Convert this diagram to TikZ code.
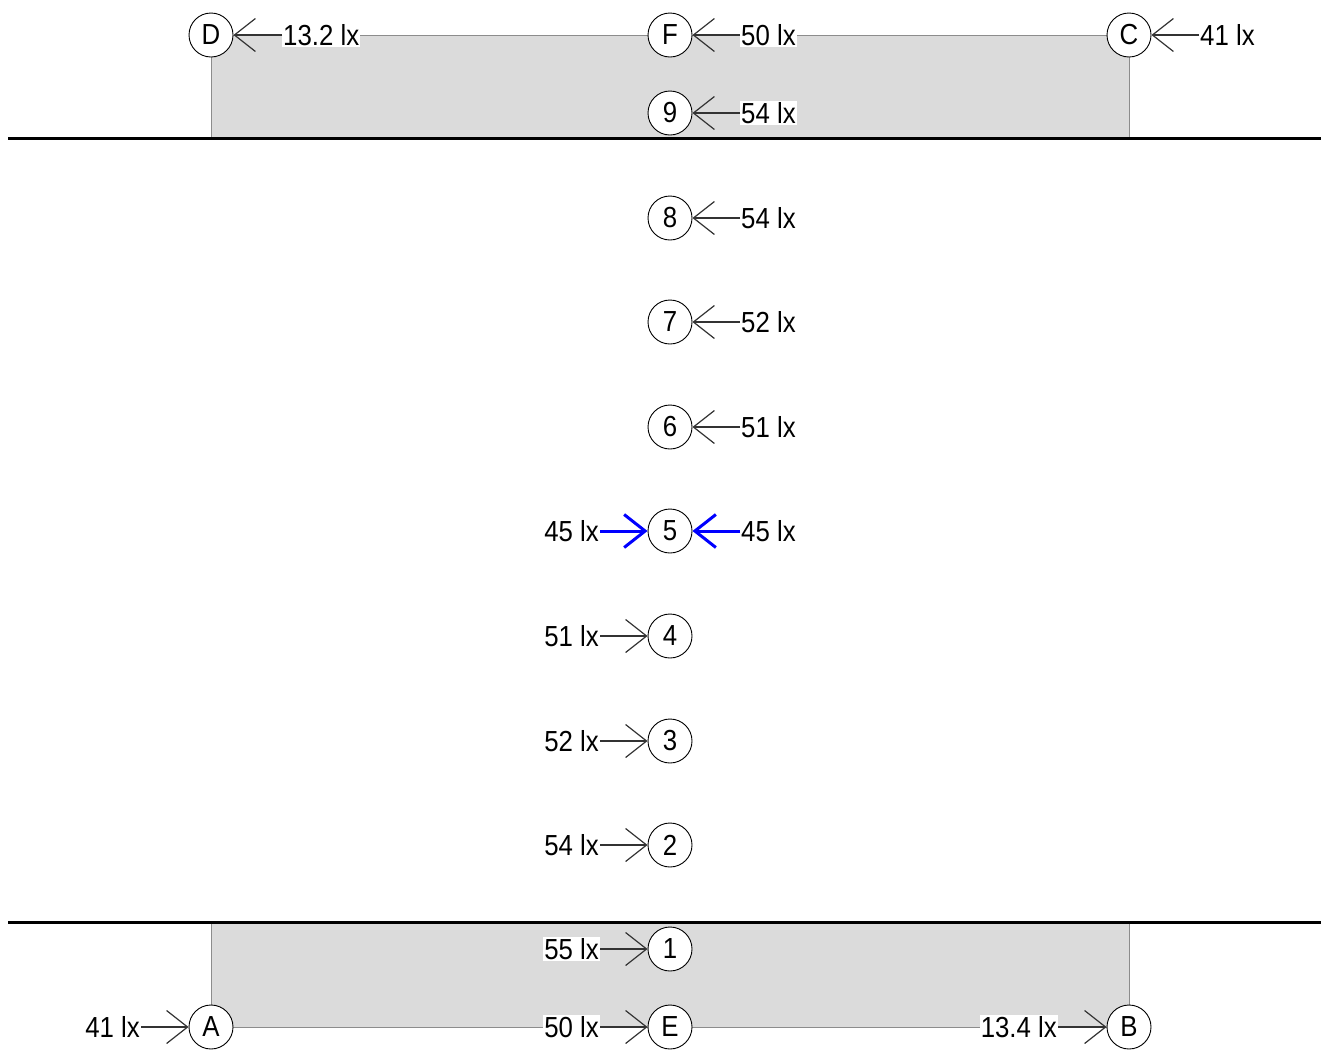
\documentclass[tikz,border=0pt]{standalone}
\usepackage{fontspec}
\setmainfont{Liberation Sans}[FakeStretch=0.89]
\usetikzlibrary{arrows.meta}

\begin{document}
\begin{tikzpicture}[x=1pt, y=-1pt,
  spot/.style={circle, draw=black, fill=white, minimum size=44pt, inner sep=0pt,
               line width=0.9pt, font=\fontsize{29}{33}\selectfont},
  lux/.style={fill=white, inner sep=1pt, font=\fontsize{29}{33}\selectfont},
  meas/.style={-{Straight Barb[length=21pt, width=33pt]}, draw=black!80, line width=1.2pt},
  hot/.style={meas, draw=blue, line width=3pt},
  zone/.style={draw=black!45, fill=black!14, line width=1pt},
  wall/.style={line width=3pt}
]
  \useasboundingbox (0,0) rectangle (1321,1050);

  % lit zones at both ends
  \draw[zone] (211,35) rectangle (1129,138);
  \draw[zone] (211,922) rectangle (1129,1027);
  \draw[wall] (8,138) -- (1321,138);
  \draw[wall] (8,922) -- (1321,922);

  % top row
  \node[spot] (D) at (211,35) {D};
  \node[spot] (F) at (670,35) {F};
  \node[spot] (C) at (1129,35) {C};
  \node[lux, anchor=west] (lD) at (282,35) {13.2 lx};
  \node[lux, anchor=west] (lF) at (740,35) {50 lx};
  \node[lux, anchor=west] (lC) at (1199,35) {41 lx};
  \draw[meas] (lD) -- (D);
  \draw[meas] (lF) -- (F);
  \draw[meas] (lC) -- (C);

  % centre line, upper half
  \node[spot] (p9) at (670,113) {9};
  \node[spot] (p8) at (670,218) {8};
  \node[spot] (p7) at (670,322) {7};
  \node[spot] (p6) at (670,427) {6};
  \node[spot] (p5) at (670,531) {5};
  \node[lux, anchor=west] (l9) at (740,113) {54 lx};
  \node[lux, anchor=west] (l8) at (740,218) {54 lx};
  \node[lux, anchor=west] (l7) at (740,322) {52 lx};
  \node[lux, anchor=west] (l6) at (740,427) {51 lx};
  \node[lux, anchor=west] (l5r) at (740,531) {45 lx};
  \node[lux, anchor=east] (l5l) at (600,531) {45 lx};
  \draw[meas] (l9) -- (p9);
  \draw[meas] (l8) -- (p8);
  \draw[meas] (l7) -- (p7);
  \draw[meas] (l6) -- (p6);
  \draw[hot] (l5r) -- (p5);
  \draw[hot] (l5l) -- (p5);

  % centre line, lower half
  \node[spot] (p4) at (670,636) {4};
  \node[spot] (p3) at (670,741) {3};
  \node[spot] (p2) at (670,845) {2};
  \node[spot] (p1) at (670,949) {1};
  \node[lux, anchor=east] (l4) at (600,636) {51 lx};
  \node[lux, anchor=east] (l3) at (600,741) {52 lx};
  \node[lux, anchor=east] (l2) at (600,845) {54 lx};
  \node[lux, anchor=east] (l1) at (600,949) {55 lx};
  \draw[meas] (l4) -- (p4);
  \draw[meas] (l3) -- (p3);
  \draw[meas] (l2) -- (p2);
  \draw[meas] (l1) -- (p1);

  % bottom row
  \node[spot] (A) at (211,1027) {A};
  \node[spot] (E) at (670,1027) {E};
  \node[spot] (B) at (1129,1027) {B};
  \node[lux, anchor=east] (lA) at (141,1027) {41 lx};
  \node[lux, anchor=east] (lE) at (600,1027) {50 lx};
  \node[lux, anchor=east] (lB) at (1058,1027) {13.4 lx};
  \draw[meas] (lA) -- (A);
  \draw[meas] (lE) -- (E);
  \draw[meas] (lB) -- (B);
\end{tikzpicture}
\end{document}
